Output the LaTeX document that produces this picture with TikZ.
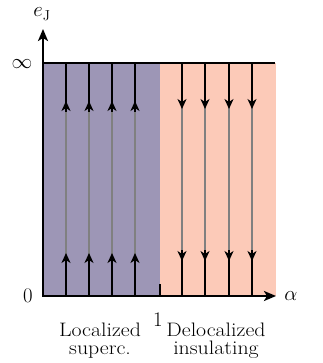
\documentclass[tikz,border=0pt]{standalone}
\usepackage{graphicx}
\usetikzlibrary{arrows.meta}
\definecolor{locpurple}{RGB}{157,150,182}
\definecolor{delpink}{RGB}{252,202,184}
\definecolor{flowgray}{RGB}{128,128,128}
\tikzset{
  axisline/.style={line width=2.4pt, draw=black},
  topline/.style={line width=2.6pt, draw=black},
  flowblack/.style={line width=1.9pt, draw=black},
  flowgrey/.style={line width=1.9pt, draw=flowgray},
  flowtip/.style={line width=1.9pt, draw=black, -{Stealth[length=10pt,width=9pt,inset=3pt]}},
  lbl/.style={inner sep=0pt, font=\fontsize{22}{22}\selectfont},
  txt/.style={inner sep=0pt, anchor=north, align=center, font=\fontsize{19.5}{17.3}\selectfont},
}
\newcommand{\widetxt}[1]{\scalebox{1.12}[1]{#1}}
\begin{document}
\begin{tikzpicture}[x=1pt,y=-1pt]
\useasboundingbox (0,0) rectangle (322,363);
% regions
\fill[locpurple] (43,63) rectangle (160,296);
\fill[delpink] (160,63) rectangle (276,296);
% localized flows (upward)
\foreach \x in {66,89,112,135}{
  \draw[flowgrey] (\x,108) -- (\x,256);
  \draw[flowblack] (\x,63) -- (\x,106);
  \draw[flowtip] (\x,112) -- (\x,101);
  \draw[flowblack] (\x,296) -- (\x,258);
  \draw[flowtip] (\x,265) -- (\x,253);
}
% delocalized flows (downward)
\foreach \x in {182,205,229,252}{
  \draw[flowgrey] (\x,106) -- (\x,254);
  \draw[flowtip] (\x,63) -- (\x,109);
  \draw[flowblack] (\x,258) -- (\x,296);
  \draw[flowtip] (\x,250) -- (\x,261);
}
% top line at infinity
\coordinate (tl) at (43,63);
\coordinate (tr) at (275,63);
\draw[topline] (tl) -- (tr);
% axes
\coordinate (o) at (43,296);
\coordinate (ytop) at (43,29);
\coordinate (xend) at (276,296);
\draw[axisline, {Stealth[length=12pt,width=10pt,inset=3pt]}-{Stealth[length=12pt,width=10pt,inset=3pt]}] (ytop) -- (o) -- (xend);
% tick at 1
\coordinate (t1) at (160,296);
\coordinate (t1top) at (160,284);
\draw[line width=2pt] (t1) -- (t1top);
% labels
\node[lbl] (eJ) at (42,14) {$e_{\mathrm{J}}$};
\node[lbl] (inf) at (22,64) {$\infty$};
\node[lbl] (zero) at (28,296) {$0$};
\node[lbl] (alpha) at (291,296) {$\alpha$};
\node[lbl, font=\fontsize{20}{20}\selectfont] (one) at (158,320) {$1$};
\node[txt] (loc) at (100,323.2) {\widetxt{Localized}\\\widetxt{superc.}};
\node[txt] (del) at (216,323.2) {\widetxt{Delocalized}\\\widetxt{insulating}};
\end{tikzpicture}
\end{document}
